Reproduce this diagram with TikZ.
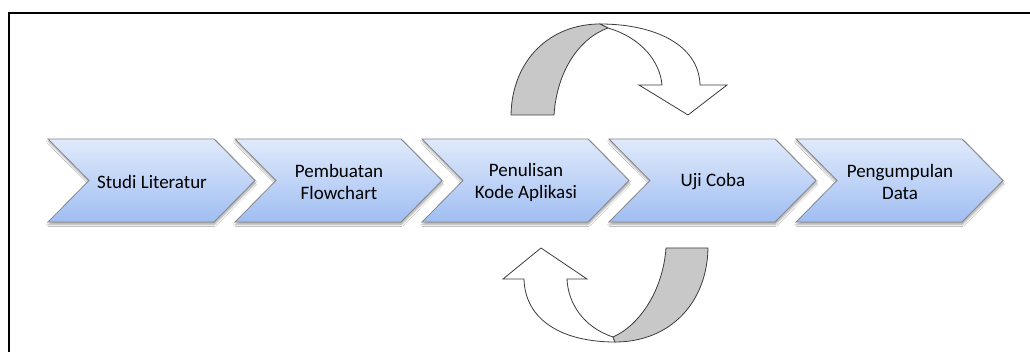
\documentclass[tikz,border=0pt]{standalone}
\usepackage{fontspec}
\setmainfont{Carlito}
\usetikzlibrary{shadows.blur}
\definecolor{chevtop}{RGB}{224,234,251}
\definecolor{chevbot}{RGB}{160,190,242}
\definecolor{chevline}{RGB}{135,135,140}
\definecolor{ribbon}{RGB}{200,200,200}
\definecolor{ribbonline}{RGB}{60,60,60}
\tikzset{
  chev/.style={draw=chevline, line width=0.8pt, top color=chevtop, bottom color=chevbot,
    line join=miter,
    blur shadow={shadow xshift=0.5pt, shadow yshift=-2.5pt, shadow blur steps=6, shadow opacity=35}},
  lbl/.style={align=center, font=\fontsize{19}{22}\selectfont, text=black, inner sep=0pt},
  band/.style={draw=ribbonline, line width=0.8pt, fill=ribbon, line join=round},
  face/.style={draw=ribbonline, line width=0.8pt, fill=white, line join=miter},
  frame/.style={line width=2pt, draw=black}
}
\begin{document}
\begin{tikzpicture}[x=1pt,y=-1pt]
\useasboundingbox (0,0) rectangle (1030,352);
\fill[white] (0,0) rectangle (1030,352);
% open frame: top and left edges
\draw[frame] (9,360) -- (9,13) -- (1040,13);

% process chevrons with their labels
\foreach \i/\t in {0/{Studi Literatur}, 1/{Pembuatan\\Flowchart}, 2/{Penulisan\\Kode Aplikasi}, 3/{Uji Coba}, 4/{Pengumpulan\\Data}} {
  \pgfmathsetmacro{\L}{48+187*\i}
  \path[chev] (\L,139) -- ++(166,0) -- ++(41,41.5) -- ++(-41,41.5) -- ++(-166,0) -- ++(41,-41.5) -- cycle;
  \node[lbl] (s\i) at (\L+104,182) {\t};
}

% upper turning ribbon arrow
\path[face] (608,28) .. controls (642,38) and (660,62) .. (662,85) -- (639,85) -- (688,115)
  -- (727,85) -- (700,85) .. controls (699,45) and (655,24) .. (600,24) -- cycle;
\path[band] (511,115) .. controls (512,60) and (550,24) .. (600,24) -- (608,28)
  .. controls (580,38) and (557,70) .. (554,115) -- cycle;

% lower turning ribbon arrow
\path[face] (613,337) .. controls (583,327) and (568,303) .. (567,279) -- (587,279) -- (541,248)
  -- (503,279) -- (524,279) .. controls (525,320) and (562,342) .. (615,342) -- cycle;
\path[band] (666,248) -- (708,248) .. controls (707,303) and (670,342) .. (615,342) -- (613,337)
  .. controls (640,325) and (663,290) .. (666,248) -- cycle;
\end{tikzpicture}
\end{document}
